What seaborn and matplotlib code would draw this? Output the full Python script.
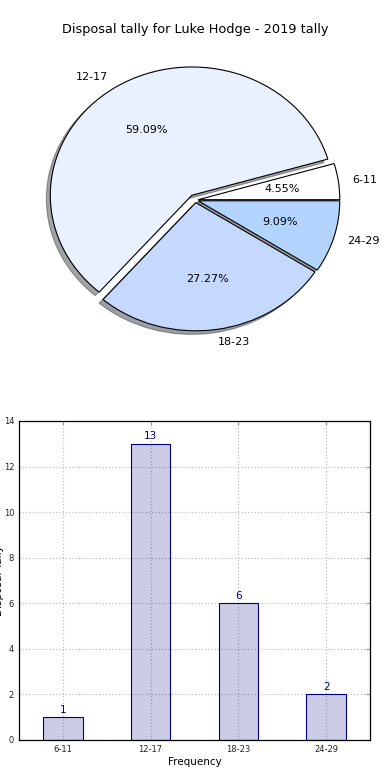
import matplotlib
matplotlib.use("Agg")
import matplotlib.pyplot as plt
import seaborn as sns
import pandas as pd

# Disposal tally buckets for Luke Hodge, 2019
categories = ['6-11', '12-17', '18-23', '24-29']
tally = [1, 13, 6, 2]
pie_colors = ['#ffffff', '#eaf1fe', '#c5d8fe', '#b3d4fe']
explode = [0.02, 0.045, 0.02, 0.02]
y_ticks = [0, 2, 4, 6, 8, 10, 12, 14]

sns.set_style("white")
plt.rcParams['font.family'] = ['DejaVu Sans']
plt.rcParams['text.color'] = 'black'
plt.rcParams['axes.labelcolor'] = 'black'
plt.rcParams['xtick.color'] = 'black'
plt.rcParams['ytick.color'] = 'black'

df = pd.DataFrame({'bucket': categories, 'tally': tally})

fig = plt.figure(figsize=(3.9, 7.8), dpi=100)

# Pie chart (top)
ax1 = fig.add_axes([0.047, 0.538, 0.908, 0.411])
ax1.pie(df['tally'], labels=df['bucket'], colors=pie_colors, explode=explode,
        autopct='%.2f%%', shadow=True, startangle=0,
        wedgeprops={'edgecolor': 'black', 'linewidth': 0.8},
        textprops={'fontsize': 8, 'color': 'black'})
ax1.set_aspect('auto')
ax1.set_xlim(-1.25, 1.25)
ax1.set_ylim(-1.25, 1.25)
fig.text(0.5, 1 - 30 / 780, "Disposal tally for Luke Hodge - 2019 tally",
         ha='center', va='center', fontsize=9.3)

# Bar chart (bottom)
ax2 = fig.add_axes([0.0487, 0.0513, 0.9, 0.409])
sns.barplot(data=df, x='bucket', y='tally', ax=ax2, width=0.45,
            color=(0, 0, 0.5, 0.2), edgecolor='navy', linewidth=0.8,
            saturation=1, zorder=3)
for i, v in enumerate(tally):
    ax2.text(i, v + 0.1, str(v), ha='center', va='bottom', color='navy', fontsize=7.5)

ax2.set_xlim(-0.5, 3.5)
ax2.set_ylim(0, 14)
ax2.set_yticks(y_ticks)
ax2.grid(True, linestyle=':', color='#c0c0c0', linewidth=0.9, zorder=0)
ax2.set_axisbelow(True)
ax2.tick_params(axis='both', direction='in', labelsize=6, length=3,
                top=True, right=True, color='#999999', labelcolor='#222222')
for s in ax2.spines.values():
    s.set_color('black')
    s.set_linewidth(0.9)
ax2.set_xlabel("Frequency", fontsize=7.5, labelpad=2)
ax2.set_ylabel("Disposal Tally", fontsize=7.5)
ax2.yaxis.set_label_coords(-0.043, 0.5)

fig.savefig("out.png", dpi=100)
